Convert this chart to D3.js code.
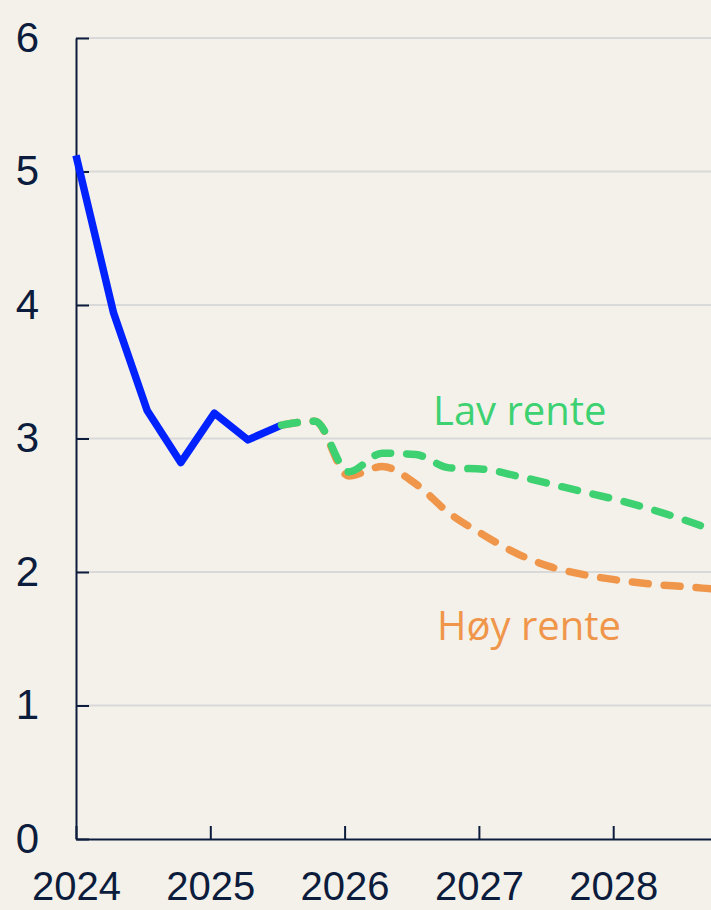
<!DOCTYPE html>
<html>
<head>
<meta charset="utf-8">
<script src="https://cdn.jsdelivr.net/npm/d3@7"></script>
<style>
  html, body { margin: 0; padding: 0; background: #f4f1ea; overflow: hidden; }
  svg { display: block; }
</style>
</head>
<body>
<script>
// historical (solid blue)
const histDates = [2024.0, 2024.28, 2024.53, 2024.78, 2025.03, 2025.28, 2025.53]
const histValues = [5.12, 3.94, 3.21, 2.82, 3.19, 2.99, 3.10]

// scenarios (dashed)
const scenDates = [2025.53, 2025.78, 2026.03, 2026.28, 2026.53, 2026.78, 2027.03,
  2027.28, 2027.53, 2027.78, 2028.03, 2028.28, 2028.53, 2028.78]
const lavRente = [3.10, 3.13, 2.75, 2.89, 2.88, 2.78, 2.77, 2.72, 2.66, 2.60, 2.54, 2.47, 2.39, 2.30]
const hoyRente = [3.10, 3.13, 2.72, 2.79, 2.66, 2.44, 2.28, 2.14, 2.04, 1.98, 1.94, 1.91, 1.89, 1.87]

const yTicks = [0, 1, 2, 3, 4, 5, 6]
const xTicks = [2024, 2025, 2026, 2027, 2028]

const width = 711
const height = 910
const axisColor = '#0c1c3c'

const svg = d3.select('body')
  .append('svg')
  .attr('width', width)
  .attr('height', height)

svg.append('rect')
  .attr('width', width)
  .attr('height', height)
  .attr('fill', '#f4f1ea')

const x = d3.scaleLinear().domain([2024, 2029]).range([76, 76 + 5 * 134.3])
const y = d3.scaleLinear().domain([0, 6]).range([839, 38])

// gridlines
svg.append('g')
  .attr('id', 'grid')
  .selectAll('line')
  .data(yTicks.filter(d => d > 0))
  .enter()
  .append('line')
  .attr('x1', x(2024))
  .attr('x2', width)
  .attr('y1', d => y(d))
  .attr('y2', d => y(d))
  .attr('stroke', '#d9d9d9')
  .attr('stroke-width', 2)

// Y axis
const yAxis = svg.append('g')
  .attr('transform', `translate(${x(2024)},0)`)
  .call(d3.axisLeft(y).tickValues(yTicks).tickFormat(d3.format('d'))
    .tickSize(-13).tickSizeOuter(0).tickPadding(37))
yAxis.select('.domain').attr('stroke', axisColor).attr('stroke-width', 2)
yAxis.selectAll('.tick line').attr('stroke', axisColor).attr('stroke-width', 2)
yAxis.selectAll('.tick text')
  .attr('fill', axisColor)
  .attr('font-family', '"Liberation Sans", Arial, sans-serif')
  .attr('font-size', '42px')

// X axis
const xAxis = svg.append('g')
  .attr('transform', `translate(0,${y(0)})`)
  .call(d3.axisBottom(x).tickValues(xTicks).tickFormat(d3.format('d'))
    .tickSize(-13).tickSizeOuter(0).tickPadding(33))
xAxis.select('.domain').attr('stroke', axisColor).attr('stroke-width', 2)
xAxis.selectAll('.tick line').attr('stroke', axisColor).attr('stroke-width', 2)
xAxis.selectAll('.tick text')
  .attr('fill', axisColor)
  .attr('font-family', '"Liberation Sans", Arial, sans-serif')
  .attr('font-size', '40px')

// lines
const line = d3.line()
  .x(d => x(d[0]))
  .y(d => y(d[1]))

const smooth = d3.line()
  .x(d => x(d[0]))
  .y(d => y(d[1]))
  .curve(d3.curveMonotoneX)

svg.append('path')
  .datum(d3.zip(scenDates, hoyRente))
  .attr('d', smooth)
  .attr('fill', 'none')
  .attr('stroke', '#f0964b')
  .attr('stroke-width', 7.5)
  .attr('stroke-linecap', 'round')
  .attr('stroke-dasharray', '16 16')

svg.append('path')
  .datum(d3.zip(histDates, histValues))
  .attr('d', line)
  .attr('fill', 'none')
  .attr('stroke', '#0022ff')
  .attr('stroke-width', 7.5)
  .attr('stroke-linejoin', 'round')

svg.append('path')
  .datum(d3.zip(scenDates, lavRente))
  .attr('d', smooth)
  .attr('fill', 'none')
  .attr('stroke', '#3dd172')
  .attr('stroke-width', 7.5)
  .attr('stroke-linecap', 'round')
  .attr('stroke-dasharray', '16 16')

// labels
svg.append('text')
  .attr('x', 433)
  .attr('y', 425)
  .attr('fill', '#3dd172')
  .attr('font-family', '"Open Sans", sans-serif')
  .attr('font-size', '40px')
  .text('Lav rente')

svg.append('text')
  .attr('x', 437)
  .attr('y', 640)
  .attr('fill', '#f0964b')
  .attr('font-family', '"Open Sans", sans-serif')
  .attr('font-size', '40px')
  .text('Høy rente')
</script>
</body>
</html>
